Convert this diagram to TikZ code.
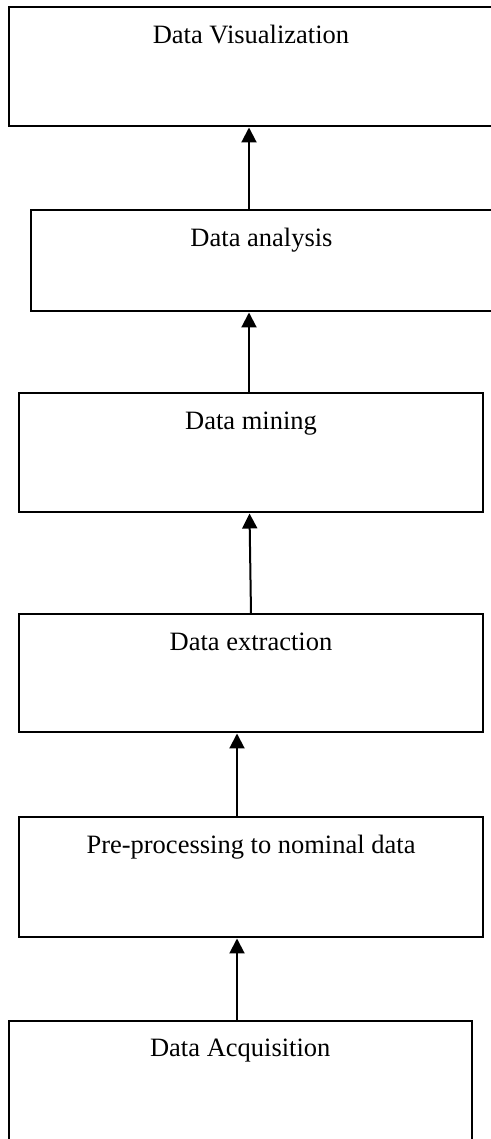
\documentclass[tikz,border=0pt]{standalone}
\usepackage{fontspec}
\setmainfont{Liberation Serif}
\usetikzlibrary{arrows.meta}

\begin{document}
\begin{tikzpicture}[>={Triangle[length=7.5pt,width=7.5pt]},line width=1pt,node distance=102pt,
    stage/.style={draw,rectangle,inner sep=0pt,text height=18pt,minimum width=231.75pt,font=\fontsize{13.25}{15}\selectfont}]

    \clip (0,0) rectangle (245.5pt,569.5pt);

    \draw (120.125pt,28.75pt) node[stage,text depth=42.5pt] (DA) {Data Acquisition};

    \node[stage,above of=DA,xshift=5.375pt,text depth=42pt] (PP) {Pre-processing to nominal data};
    \draw[<-] ([xshift=-7pt]PP.south) to ([xshift=-1.625pt]DA.north);

    \node[stage,above of=PP,text depth=41pt] (DE) {Data extraction};
    \draw[<-] ([xshift=-7pt]DE.south) to ([xshift=-7pt]PP.north);

    \node[stage,above of=DE,yshift=8.25pt,text depth=41.5pt] (DM) {Data mining};
    \draw[<-] ([xshift=-0.75pt]DM.south) to (DE.north);

    \node[stage,above of=DM,xshift=5.25pt,yshift=-6pt,minimum width=230.5pt,text depth=32.5pt] (DAn) {Data analysis};
    \draw[<-] ([xshift=-6.25pt]DAn.south) to ([xshift=-1pt]DM.north);

    \node[stage,above of=DAn,xshift=-5.25pt,yshift=-5pt,minimum width=242.5pt,text depth=41.5pt] (DV) {Data Visualization};
    \draw[<-] ([xshift=-1pt]DV.south) to ([xshift=-6.25pt]DAn.north);

\end{tikzpicture}
\end{document}
